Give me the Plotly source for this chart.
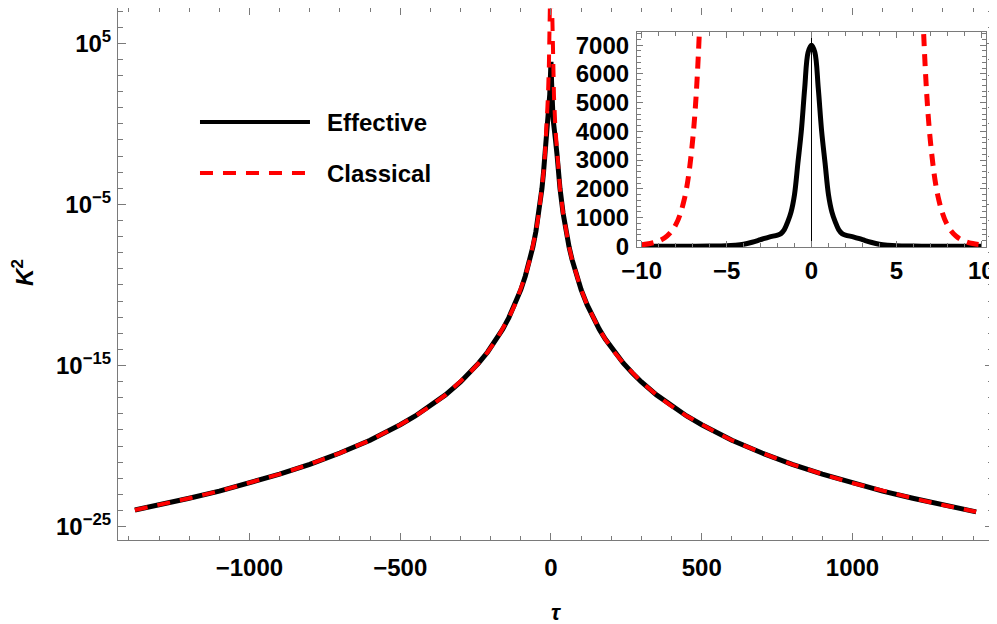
import plotly.graph_objects as go

# main panel: K^2 over the whole tau range
tau_pos = [1, 2, 3, 4, 5, 7, 10, 15, 20, 25, 30, 40, 50, 60, 70, 85, 100, 120, 140, 160, 180,
           210, 240, 270, 300, 350, 400, 450, 500, 550, 600, 700, 800, 900, 1000, 1100, 1200,
           1300]
k2_classical_pos = [None, None, 9.8e7, 3.1e6, 2.1e5, 3.7e3, 51, 0.40, 1.26e-2, 8.5e-4, 9.5e-5,
                    3.0e-6, 2.1e-7, 2.3e-8, 3.7e-9, 3.6e-10, 5.1e-11, 5.8e-12, 9.1e-13, 1.8e-13,
                    4.4e-14, 6.9e-15, 1.4e-15, 3.4e-16, 9.5e-17, 1.5e-17, 3.0e-18, 7.4e-19,
                    2.1e-19, 6.7e-20, 2.3e-20, 3.7e-21, 7.4e-22, 1.8e-22, 5.1e-23, 1.6e-23,
                    5.8e-24, 2.2e-24]
k2_effective_pos = [1800, 390, 230, 70, 15, 2, 0.3, 0.1, 1.26e-2, 8.5e-4, 9.5e-5,
                    3.0e-6, 2.1e-7, 2.3e-8, 3.7e-9, 3.6e-10, 5.1e-11, 5.8e-12, 9.1e-13, 1.8e-13,
                    4.4e-14, 6.9e-15, 1.4e-15, 3.4e-16, 9.5e-17, 1.5e-17, 3.0e-18, 7.4e-19,
                    2.1e-19, 6.7e-20, 2.3e-20, 3.7e-21, 7.4e-22, 1.8e-22, 5.1e-23, 1.6e-23,
                    5.8e-24, 2.2e-24]
# end points of the curves and the centre value
tau_left, k2_left = -1380, 1.07e-24
tau_right, k2_right = 1410, 8.3e-25
k2_effective_peak = 7000

# curve is symmetric in tau: left half is the mirror of the right half
tau = [tau_left] + [-t for t in reversed(tau_pos)] + [0] + tau_pos + [tau_right]
k2_classical = [k2_left] + list(reversed(k2_classical_pos)) + [None] + k2_classical_pos + [k2_right]
k2_effective = [k2_left] + list(reversed(k2_effective_pos)) + [k2_effective_peak] + k2_effective_pos + [k2_right]

# inset: linear scale, -10 < tau < 10
tau_in = [-10, -9, -8, -7, -6, -5, -4.5, -4, -3.5, -3, -2.5, -2, -1.8, -1.6, -1.4, -1.2, -1,
          -0.8, -0.6, -0.4, -0.2, 0, 0.2, 0.4, 0.6, 0.8, 1, 1.2, 1.4, 1.6, 1.8, 2, 2.5, 3,
          3.5, 4, 4.5, 5, 6, 7, 8, 9, 10]
k2_eff_in = [0.3, 0.5, 1, 2, 5, 15, 35, 70, 140, 230, 320, 390, 440, 580, 850, 1200, 1800,
             2900, 4000, 5500, 6750, 7000, 6750, 5500, 4000, 2900, 1800, 1200, 850, 580, 440,
             390, 320, 230, 140, 70, 35, 15, 5, 2, 1, 0.5, 0.3]
tau_cl_in = [-10, -9.5, -9, -8.5, -8, -7.5, -7, -6.5, -6, 0, 6, 6.5, 7, 7.5, 8, 8.5, 9, 9.5, 10]
k2_cl_in = [51, 94, 180, 359, 742, 1612, 3691, 8990, 23400, None,
            23400, 8990, 3691, 1612, 742, 359, 180, 94, 51]

major_y = [1e-25, 1e-15, 1e-5, 1e5]
major_y_text = ["10<sup>\u221225</sup>", "10<sup>\u221215</sup>", "10<sup>\u22125</sup>", "10<sup>5</sup>"]

RED = "#ff0000"
FRAME = "#7a7a7a"
tickfont = dict(family="Liberation Sans", size=24, color="black", weight="bold")

fig = go.Figure()
fig.add_trace(go.Scatter(x=tau, y=k2_effective, mode="lines", name="Effective",
                         line=dict(color="black", width=5)))
fig.add_trace(go.Scatter(x=tau, y=k2_classical, mode="lines", name="Classical",
                         line=dict(color=RED, width=4, dash="13px,10px")))
fig.add_trace(go.Scatter(x=tau_in, y=k2_eff_in, mode="lines", xaxis="x2", yaxis="y2",
                         line=dict(color="black", width=5, shape="spline")))
fig.add_trace(go.Scatter(x=tau_cl_in, y=k2_cl_in, mode="lines", xaxis="x2", yaxis="y2",
                         line=dict(color=RED, width=5, dash="12px,8px", shape="spline")))

# the page body adds an 8px margin, so the figure is 8px smaller each way
fig.update_layout(
    width=989, height=616,
    margin=dict(l=110, r=4, t=0, b=84, autoexpand=False),
    paper_bgcolor="white", plot_bgcolor="white",
    showlegend=False,
    xaxis=dict(range=[-1436, 1466], showgrid=False, zeroline=False, automargin=False,
               showline=True, linecolor=FRAME, linewidth=1, mirror="ticks",
               ticks="inside", ticklen=7, tickcolor=FRAME,
               tickvals=[-1000, -500, 0, 500, 1000], tickfont=tickfont,
               ticklabelstandoff=6,
               minor=dict(dtick=100, tick0=0, ticks="inside", ticklen=4, tickcolor=FRAME)),
    yaxis=dict(type="log", range=[-25.83, 7.19], showgrid=False, zeroline=False, automargin=False,
               showline=True, linecolor=FRAME, linewidth=1, mirror="ticks",
               ticks="inside", ticklen=8, tickcolor=FRAME,
               tickvals=major_y, ticktext=major_y_text, tickfont=tickfont,
               ticklabelstandoff=1,
               minor=dict(tickvals=[10.0 ** k for k in range(-25, 8)], ticks="inside",
                          ticklen=5, tickcolor=FRAME)),
    xaxis2=dict(domain=[0.5931, 0.992], anchor="y2", range=[-10.28, 10.28], automargin=False,
                showgrid=False, zeroline=True, zerolinecolor="black", zerolinewidth=1,
                showline=True, linecolor=FRAME, linewidth=1, mirror="ticks",
                ticks="inside", ticklen=6, tickcolor=FRAME,
                tickvals=[-10, -5, 0, 5, 10], tickfont=tickfont, ticklabelstandoff=2,
                minor=dict(dtick=1, tick0=0, ticks="inside", ticklen=4, tickcolor=FRAME)),
    yaxis2=dict(domain=[0.5508, 0.9549], anchor="x2", range=[-25, 7460], automargin=False,
                showgrid=False, zeroline=False,
                showline=True, linecolor=FRAME, linewidth=1, mirror="ticks",
                ticks="inside", ticklen=6, tickcolor=FRAME,
                tickvals=[0, 1000, 2000, 3000, 4000, 5000, 6000, 7000], tickfont=tickfont,
                ticklabelstandoff=2,
                minor=dict(dtick=200, tick0=0, ticks="inside", ticklen=4, tickcolor=FRAME)),
)

# axis titles
fig.add_annotation(x=0.5006, y=-0.1372, xref="paper", yref="paper", showarrow=False,
                   xanchor="center", yanchor="middle",
                   text="<b><i>\u03c4</i></b>", font=dict(family="Liberation Sans", size=22, color="black"))
fig.add_annotation(x=-0.1086, y=0.5038, xref="paper", yref="paper", showarrow=False, textangle=-90,
                   xanchor="center", yanchor="middle",
                   text="<b><i>K</i><sup>2</sup></b>", font=dict(family="Liberation Sans", size=24, color="black"))

# legend drawn by hand so the keys are as long as in the original
fig.add_shape(type="line", xref="paper", yref="paper", x0=0.0937, x1=0.2194, y0=0.7857, y1=0.7857,
              line=dict(color="black", width=4))
fig.add_shape(type="line", xref="paper", yref="paper", x0=0.0937, x1=0.2194, y0=0.6898, y1=0.6898,
              line=dict(color=RED, width=4, dash="13px,10px"))
for label, yy in [("Effective", 0.7857), ("Classical", 0.6898)]:
    fig.add_annotation(x=0.2366, y=yy, xref="paper", yref="paper", showarrow=False,
                       xanchor="left", yanchor="middle", text="<b>" + label + "</b>",
                       font=dict(family="Liberation Sans", size=24, color="black"))

fig.write_html("out.html")
